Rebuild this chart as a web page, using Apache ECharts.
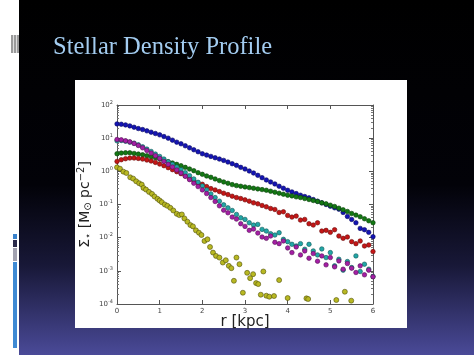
<!DOCTYPE html>
<html>
<head>
<meta charset="utf-8">
<script src="https://cdn.jsdelivr.net/npm/echarts@6/dist/echarts.min.js"></script>
<style>
html,body{margin:0;padding:0;background:#fff;}
#chart{width:474px;height:355px;}
</style>
</head>
<body>
<div id="chart"></div>
<script>
// Radius grid for the five densely sampled profiles (kpc)
const radius = [0.0,0.1,0.2,0.3,0.4,0.5,0.6,0.7,0.8,0.9,1.0,1.1,1.2,1.3,1.4,1.5,1.6,1.7,1.8,1.9,2.0,2.1,2.2,2.3,2.4,2.5,2.6,2.7,2.8,2.9,3.0,3.1,3.2,3.3,3.4,3.5,3.6,3.7,3.8,3.9,4.0,4.1,4.2,4.3,4.4,4.5,4.6,4.7,4.8,4.9,5.0,5.1,5.2,5.3,5.4,5.5,5.6,5.7,5.8,5.9,6.0];

// log10 of surface density Sigma_* [Msun pc^-2]
const blueLogSigma = [1.43,1.42,1.40,1.37,1.33,1.29,1.26,1.22,1.18,1.14,1.10,1.05,1.00,0.94,0.88,0.83,0.77,0.71,0.65,0.59,0.53,0.49,0.45,0.41,0.37,0.33,0.28,0.23,0.18,0.12,0.07,0.01,-0.05,-0.12,-0.19,-0.26,-0.32,-0.38,-0.45,-0.51,-0.57,-0.62,-0.67,-0.72,-0.76,-0.80,-0.85,-0.90,-0.95,-1.00,-1.05,-1.10,-1.14,-1.24,-1.36,-1.45,-1.55,-1.72,-1.76,-1.84,-1.97];
const greenLogSigma = [0.53,0.55,0.56,0.56,0.54,0.52,0.50,0.47,0.44,0.41,0.37,0.33,0.29,0.25,0.21,0.17,0.12,0.07,0.02,-0.04,-0.09,-0.14,-0.18,-0.23,-0.28,-0.32,-0.36,-0.40,-0.43,-0.45,-0.47,-0.49,-0.51,-0.53,-0.55,-0.57,-0.60,-0.63,-0.66,-0.69,-0.72,-0.74,-0.77,-0.79,-0.82,-0.85,-0.88,-0.91,-0.95,-0.98,-1.02,-1.06,-1.11,-1.16,-1.21,-1.27,-1.32,-1.37,-1.43,-1.49,-1.55];
const redLogSigma = [0.30,0.35,0.38,0.40,0.40,0.39,0.37,0.34,0.31,0.27,0.22,0.17,0.11,0.05,-0.01,-0.07,-0.14,-0.22,-0.29,-0.35,-0.39,-0.46,-0.52,-0.56,-0.61,-0.66,-0.70,-0.75,-0.79,-0.82,-0.86,-0.90,-0.95,-0.98,-1.03,-1.07,-1.12,-1.15,-1.24,-1.22,-1.33,-1.38,-1.35,-1.47,-1.45,-1.58,-1.62,-1.55,-1.80,-1.78,-1.84,-1.76,-1.95,-2.02,-1.98,-2.12,-2.18,-2.10,-2.25,-2.22,-2.42];
const magentaLogSigma = [0.96,0.95,0.92,0.89,0.84,0.78,0.71,0.63,0.55,0.47,0.39,0.30,0.21,0.13,0.04,-0.05,-0.15,-0.25,-0.36,-0.46,-0.56,-0.67,-0.79,-0.91,-1.04,-1.17,-1.25,-1.38,-1.44,-1.58,-1.66,-1.78,-1.74,-1.86,-1.98,-2.02,-1.95,-2.14,-2.18,-2.10,-2.31,-2.45,-2.28,-2.52,-2.40,-2.62,-2.48,-2.71,-2.55,-2.82,-2.60,-2.88,-2.70,-2.95,-2.78,-2.92,-3.05,-2.85,-3.12,-2.98,-3.18];
const cyanLogSigma = [0.92,0.93,0.91,0.88,0.85,0.80,0.74,0.67,0.60,0.52,0.45,0.37,0.29,0.21,0.13,0.05,-0.04,-0.13,-0.23,-0.33,-0.44,-0.56,-0.68,-0.79,-0.90,-1.01,-1.10,-1.18,-1.30,-1.40,-1.45,-1.55,-1.62,-1.60,-1.75,-1.80,-1.88,-1.92,-1.85,-2.05,-2.12,-2.20,-2.25,-2.18,-2.35,-2.20,-2.40,-2.52,-2.34,-2.60,-2.45,-2.85,-2.65,-2.98,-2.72,-2.90,-2.55,-3.02,-2.80,-2.95,-3.17];

// Sparse (yellow) profile has its own radii
const yellowRadius = [0.00,0.07,0.15,0.22,0.31,0.38,0.45,0.52,0.58,0.62,0.68,0.75,0.82,0.88,0.95,1.00,1.05,1.12,1.18,1.25,1.32,1.40,1.46,1.52,1.58,1.65,1.72,1.78,1.85,1.92,1.98,2.05,2.12,2.18,2.25,2.32,2.40,2.48,2.55,2.62,2.68,2.74,2.80,2.87,2.95,3.05,3.12,3.19,3.26,3.31,3.37,3.43,3.50,3.57,3.68,3.80,4.00,4.44,4.48,5.14,5.34,5.49];
const yellowLogSigma = [0.12,0.08,-0.01,-0.05,-0.18,-0.22,-0.30,-0.36,-0.40,-0.50,-0.55,-0.62,-0.68,-0.76,-0.83,-0.88,-0.93,-1.00,-1.04,-1.10,-1.18,-1.28,-1.32,-1.30,-1.42,-1.52,-1.62,-1.66,-1.78,-1.85,-1.92,-2.10,-2.05,-2.28,-2.45,-2.55,-2.60,-2.75,-2.68,-2.85,-2.92,-3.30,-2.60,-2.80,-3.66,-3.06,-3.22,-3.10,-3.37,-3.40,-3.72,-3.02,-3.75,-3.78,-3.76,-3.28,-3.82,-3.83,-3.85,-3.88,-3.63,-3.90];

// Axis ticks
const xTicks = [0,1,2,3,4,5,6];
const yDecades = [-4,-3,-2,-1,0,1,2];

const pair = (xs, ys) => xs.map((x, i) => [x, ys[i]]);
const minorTicks = [];
for (let d = -4; d < 2; d++) for (let k = 2; k <= 9; k++) minorTicks.push(d + Math.log10(k));

const chart = echarts.init(document.getElementById('chart'), null, {renderer: 'canvas'});

function dot(name, xs, ys, color, border, size) {
  return {
    name, type: 'scatter', data: pair(xs, ys), symbol: 'circle', symbolSize: size,
    itemStyle: {color: color, borderColor: border, borderWidth: 0.6, opacity: 1},
    xAxisIndex: 0, yAxisIndex: 0, silent: true, animation: false
  };
}

const line = {show: true, onZero: false, lineStyle: {color: '#555', width: 1}};
const majorTick = {show: true, inside: true, length: 4, lineStyle: {color: '#555'}};
const minorTick = {show: true, inside: true, length: 2, customValues: minorTicks, lineStyle: {color: '#777'}};

const option = {
  animation: false,
  backgroundColor: '#ffffff',
  textStyle: {fontFamily: 'DejaVu Sans'},
  title: {
    text: 'Stellar Density Profile',
    left: 48, top: 30,
    textStyle: {fontFamily: 'Liberation Serif', fontWeight: 'normal', fontSize: 24.5, color: '#a3ccf0'}
  },
  graphic: [
    {type: 'rect', z: -20, shape: {x: 19, y: 0, width: 455, height: 355},
     style: {fill: {type: 'linear', x: 0, y: 0, x2: 0, y2: 1, colorStops: [
       {offset: 0, color: '#000000'}, {offset: 0.52, color: '#020208'},
       {offset: 0.75, color: '#181838'}, {offset: 1, color: '#4a4a98'}]}}},
    {type: 'rect', z: -19, shape: {x: 75, y: 80, width: 332, height: 248}, style: {fill: '#ffffff'}},
    {type: 'rect', z: -19, shape: {x: 11, y: 35, width: 8, height: 18}, style: {fill: '#9a9a9a'}},
    {type: 'rect', z: -18, shape: {x: 13, y: 35, width: 1, height: 18}, style: {fill: '#dddddd'}},
    {type: 'rect', z: -18, shape: {x: 16, y: 35, width: 1, height: 18}, style: {fill: '#dddddd'}},
    {type: 'rect', z: -19, shape: {x: 13, y: 234, width: 4, height: 5}, style: {fill: '#3a82cc'}},
    {type: 'rect', z: -19, shape: {x: 13, y: 240, width: 4, height: 7}, style: {fill: '#2a2a4a'}},
    {type: 'rect', z: -19, shape: {x: 13, y: 248, width: 4, height: 13}, style: {fill: '#a2a2b0'}},
    {type: 'rect', z: -19, shape: {x: 13, y: 262, width: 4, height: 86}, style: {fill: '#3f8ad4'}}
  ],
  grid: {left: 117, right: 101, top: 105, bottom: 51, containLabel: false},
  xAxis: [
    {
      type: 'value', position: 'bottom', min: 0, max: 6, interval: 1,
      axisLine: line, splitLine: {show: false}, axisTick: majorTick,
      axisLabel: {show: true, fontSize: 7, color: '#444', margin: 4, formatter: v => xTicks.includes(v) ? String(v) : ''},
      name: 'r [kpc]', nameLocation: 'middle', nameGap: 11, nameMoveOverlap: false,
      nameTextStyle: {fontSize: 15, color: '#222', fontFamily: 'DejaVu Sans'}
    },
    {
      type: 'value', position: 'top', min: 0, max: 6, interval: 1,
      axisLine: line, splitLine: {show: false}, axisTick: majorTick, axisLabel: {show: false}
    }
  ],
  yAxis: [
    {
      type: 'value', position: 'left', min: -4, max: 2, interval: 1,
      axisLine: line, splitLine: {show: false}, axisTick: majorTick,
      axisLabel: {
        show: true, color: '#444', margin: 4,
        formatter: v => yDecades.includes(v) ? '{b|10}{s|' + v + '}' : '',
        rich: {b: {fontSize: 7, color: '#444'}, s: {fontSize: 5, color: '#444', padding: [0, 0, 5, 0]}}
      },
      name: '{a|Σ}{d|⋆}{a| [M}{d|⊙}{a| pc}{u|−2}{a|]}',
      nameLocation: 'middle', nameRotate: 90, nameGap: 23, nameMoveOverlap: false,
      nameTextStyle: {
        color: '#222',
        rich: {
          a: {fontSize: 14, color: '#222', fontFamily: 'DejaVu Sans'},
          d: {fontSize: 10, color: '#222', fontFamily: 'DejaVu Sans', padding: [6, 0, 0, 0]},
          u: {fontSize: 10, color: '#222', fontFamily: 'DejaVu Sans', padding: [0, 0, 8, 0]}
        }
      }
    },
    {
      type: 'value', position: 'right', min: -4, max: 2, interval: 1,
      axisLine: line, splitLine: {show: false}, axisTick: majorTick, axisLabel: {show: false}
    },
    {
      type: 'value', position: 'right', min: -4, max: 2, interval: 1,
      axisLine: {show: false, onZero: false}, splitLine: {show: false}, axisTick: minorTick, axisLabel: {show: false}
    },
    {
      type: 'value', position: 'left', min: -4, max: 2, interval: 1,
      axisLine: {show: false, onZero: false}, splitLine: {show: false}, axisTick: minorTick, axisLabel: {show: false}
    }
  ],
  series: [
    dot('blue', radius, blueLogSigma, '#1414b4', '#0a0a60', 4.5),
    dot('green', radius, greenLogSigma, '#137813', '#0a400a', 4.5),
    dot('red', radius, redLogSigma, '#c41616', '#6a0a0a', 4.5),
    dot('cyan', radius, cyanLogSigma, '#22a6a6', '#115858', 4.5),
    dot('magenta', radius, magentaLogSigma, '#a41ea4', '#561056', 4.5),
    dot('yellow', yellowRadius, yellowLogSigma, '#b8b822', '#50500c', 5)
  ]
};
chart.setOption(option);
</script>
</body>
</html>
